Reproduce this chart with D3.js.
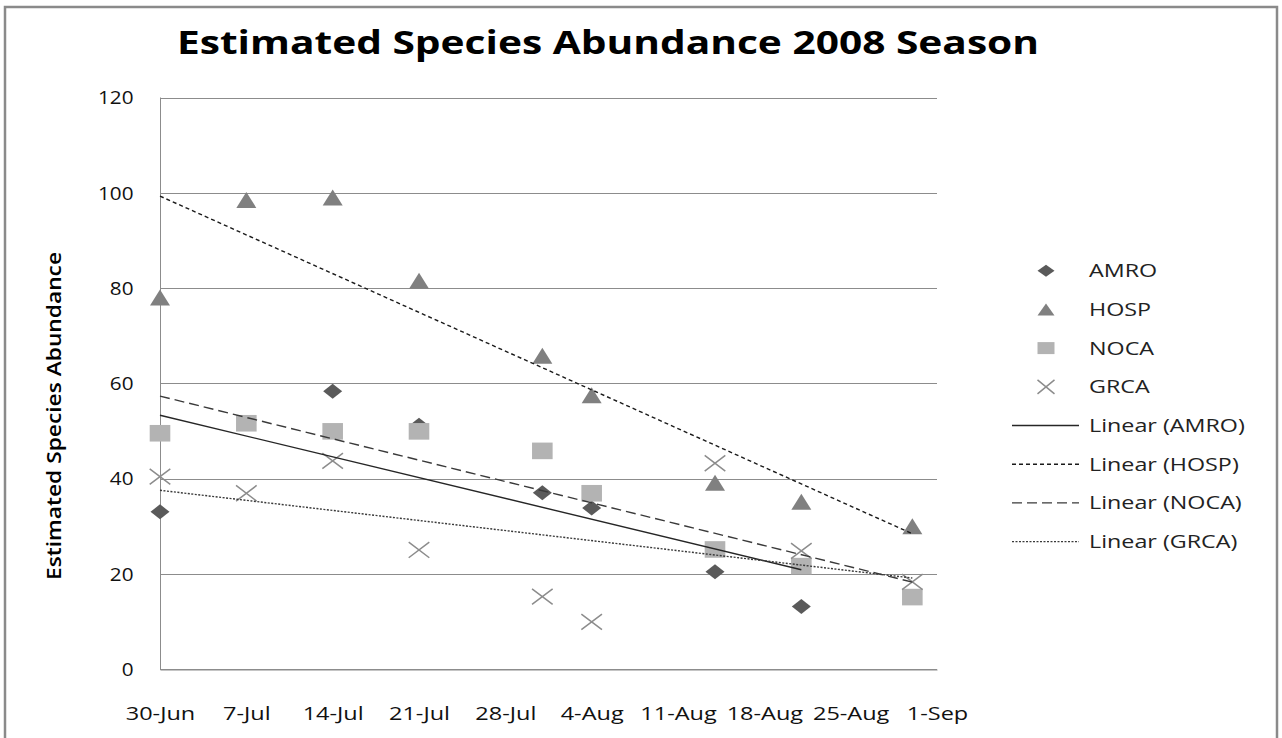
<!DOCTYPE html>
<html>
<head>
<meta charset="utf-8">
<script src="https://cdn.jsdelivr.net/npm/d3@7"></script>
<style>
  html, body { margin: 0; padding: 0; background: #fff; }
  svg { display: block; }
  text { font-family: "Open Sans", "DejaVu Sans", sans-serif; fill: #111; }
</style>
</head>
<body>
<svg id="chart" width="1282" height="738"></svg>
<script>
// ---------------- data ----------------
const dates = ["2008-06-30","2008-07-07","2008-07-14","2008-07-21","2008-07-31",
               "2008-08-04","2008-08-14","2008-08-21","2008-08-30"];
const amro = [33.0, 51.6, 58.3, 51.2, 37.0, 33.8, 20.4, 13.1, null];
const hosp = [78.0, 98.5, 99.0, 81.5, 65.8, 57.5, 39.1, 35.1, 30.0];
const noca = [49.5, 51.6, 49.9, 49.9, 45.8, 36.9, 25.1, 21.6, 15.1];
const grca = [40.4, 36.9, 43.7, 25.0, 15.2,  9.9, 43.2, 24.8, 18.3];
const seriesNames = ["AMRO", "HOSP", "NOCA", "GRCA"];
const trendNames = ["Linear (AMRO)", "Linear (HOSP)", "Linear (NOCA)", "Linear (GRCA)"];
const yTicks = [0, 20, 40, 60, 80, 100, 120];
const xTickDates = ["2008-06-30","2008-07-07","2008-07-14","2008-07-21","2008-07-28",
                    "2008-08-04","2008-08-11","2008-08-18","2008-08-25","2008-09-01"];
const xTickLabels = ["30-Jun","7-Jul","14-Jul","21-Jul","28-Jul","4-Aug","11-Aug","18-Aug","25-Aug","1-Sep"];
const titleText = "Estimated Species Abundance 2008 Season";
const yTitleText = "Estimated Species Abundance";

// ---------------- setup ----------------
const parse = d3.utcParse("%Y-%m-%d");
const svg = d3.select("#chart");
const pLeft = 160, pRight = 937, pTop = 97.5, pBottom = 669;

const x = d3.scaleUtc()
  .domain([parse(xTickDates[0]), parse(xTickDates[xTickDates.length - 1])])
  .range([pLeft, pRight]);
const y = d3.scaleLinear().domain([0, 120]).range([pBottom, pTop]);

// outer border
svg.append("rect")
  .attr("x", 5).attr("y", 7).attr("width", 1272).attr("height", 800)
  .attr("fill", "#fff").attr("stroke", "#8a8a8a").attr("stroke-width", 2.5);

// title
svg.append("text")
  .attr("x", 608).attr("y", 54)
  .attr("text-anchor", "middle")
  .attr("font-size", 33).attr("font-weight", "bold")
  .attr("textLength", 862).attr("lengthAdjust", "spacingAndGlyphs")
  .style("fill", "#000")
  .text(titleText);

// gridlines
const grid = svg.append("g");
grid.selectAll("line").data(yTicks).join("line")
  .attr("x1", pLeft).attr("x2", pRight)
  .attr("y1", d => Math.round(y(d)) + 0.5).attr("y2", d => Math.round(y(d)) + 0.5)
  .attr("stroke", "#8c8c8c").attr("stroke-width", 1);

// y axis
const yAxis = svg.append("g")
  .attr("transform", `translate(${pLeft + 0.5},0)`)
  .call(d3.axisLeft(y).tickValues(yTicks).tickSize(0).tickPadding(0));
yAxis.select(".domain").attr("stroke", "#8c8c8c").attr("d", `M0,${pTop}V${pBottom}`);
yAxis.selectAll("text")
  .attr("x", 0).attr("dy", "0.35em")
  .attr("font-size", 18.5)
  .attr("font-family", "Open Sans")
  .attr("fill", "#222")
  .attr("transform", "translate(-27,0) scale(1.12,1)");

// x axis
const xTickDateObjs = xTickDates.map(parse);
const xAxis = svg.append("g")
  .attr("transform", `translate(0,${pBottom + 0.5})`)
  .call(d3.axisBottom(x).tickValues(xTickDateObjs).tickSize(0)
        .tickFormat((d, i) => xTickLabels[i]));
xAxis.select(".domain").attr("stroke", "#8c8c8c");
xAxis.selectAll("text")
  .attr("y", 0).attr("dy", 0)
  .attr("font-size", 18.5)
  .attr("font-family", "Open Sans")
  .attr("fill", "#222")
  .attr("transform", "translate(0,50) scale(1.27,1)");

// y title
svg.append("text")
  .attr("transform", "translate(61,416) rotate(-90)")
  .attr("text-anchor", "middle")
  .attr("font-size", 19)
  .attr("font-weight", 600)
  .attr("textLength", 328).attr("lengthAdjust", "spacingAndGlyphs")
  .style("fill", "#000")
  .text(yTitleText);

// ---------------- markers ----------------
const markerStyle = [
  { shape: "diamond",  fill: "#5a5a5a" },
  { shape: "triangle", fill: "#808080" },
  { shape: "square",   fill: "#b3b3b3" },
  { shape: "cross",    stroke: "#8c8c8c" }
];
function shapePath(shape, hw, hh) {
  if (shape === "diamond") return `M0,${-hh}L${hw},0L0,${hh}L${-hw},0Z`;
  if (shape === "triangle") return `M0,${-hh}L${hw},${hh}L${-hw},${hh}Z`;
  if (shape === "square") return `M${-hw},${-hh}H${hw}V${hh}H${-hw}Z`;
  return `M${-hw},${-hh}L${hw},${hh}M${-hw},${hh}L${hw},${-hh}`;
}
function styleMarker(sel, st) {
  if (st.shape === "cross") sel.attr("fill", "none").attr("stroke", st.stroke).attr("stroke-width", 1.5);
  else sel.attr("fill", st.fill).attr("stroke", "none");
}
const markerSize = [[9.5, 7.5], [10, 8], [10.3, 8.3], [10.3, 7.8]];

const allSeries = [amro, hosp, noca, grca];
const dateObjs = dates.map(parse);
const dayMs = 86400000;

allSeries.forEach((vals, si) => {
  const pts = vals.map((v, i) => ({ d: dateObjs[i], v })).filter(p => p.v != null);
  const g = svg.append("g");
  const st = markerStyle[si];
  const sel = g.selectAll("path").data(pts).join("path")
    .attr("d", shapePath(st.shape, markerSize[si][0], markerSize[si][1]))
    .attr("transform", p => `translate(${x(p.d)},${y(p.v)})`);
  styleMarker(sel, st);
});

// ---------------- trend lines (least squares) ----------------
const trendStyle = [
  { stroke: "#262626", dash: null },
  { stroke: "#1a1a1a", dash: "4,3" },
  { stroke: "#3a3a3a", dash: "10,5" },
  { stroke: "#3a3a3a", dash: "2,1.5" }
];
allSeries.forEach((vals, si) => {
  const pts = vals.map((v, i) => ({ t: (dateObjs[i] - dateObjs[0]) / dayMs, v }))
                  .filter(p => p.v != null);
  const mx = d3.mean(pts, p => p.t), my = d3.mean(pts, p => p.v);
  const sxy = d3.sum(pts, p => (p.t - mx) * (p.v - my));
  const sxx = d3.sum(pts, p => (p.t - mx) * (p.t - mx));
  const slope = sxy / sxx, icpt = my - slope * mx;
  const t0 = d3.min(pts, p => p.t), t1 = d3.max(pts, p => p.t);
  const line = d3.line().x(d => x(new Date(dateObjs[0].getTime() + d * dayMs))).y(d => y(icpt + slope * d));
  svg.append("path")
    .attr("d", line([t0, t1]))
    .attr("fill", "none")
    .attr("stroke", trendStyle[si].stroke)
    .attr("stroke-width", 1.4)
    .attr("stroke-dasharray", trendStyle[si].dash);
});

// ---------------- legend ----------------
const legY0 = 270.7, legStep = 38.7;
const leg = svg.append("g");
seriesNames.forEach((name, i) => {
  const yy = legY0 + i * legStep;
  const st = markerStyle[i];
  const m = leg.append("path")
    .attr("d", shapePath(st.shape, 8.5, st.shape === "cross" ? 7 : 6))
    .attr("transform", `translate(1046,${yy})`);
  styleMarker(m, st);
  leg.append("text")
    .attr("transform", `translate(1089,${yy}) scale(1.26,1)`)
    .attr("dy", "0.35em").attr("font-size", 18.5)
    .style("fill", "#222")
    .text(name);
});
trendNames.forEach((name, i) => {
  const yy = legY0 + (i + 4) * legStep;
  leg.append("line")
    .attr("x1", 1012).attr("x2", 1079).attr("y1", yy).attr("y2", yy)
    .attr("stroke", trendStyle[i].stroke).attr("stroke-width", 1.4)
    .attr("stroke-dasharray", trendStyle[i].dash);
  leg.append("text")
    .attr("transform", `translate(1089,${yy}) scale(1.26,1)`)
    .attr("dy", "0.35em").attr("font-size", 18.5)
    .style("fill", "#222")
    .text(name);
});
</script>
</body>
</html>
